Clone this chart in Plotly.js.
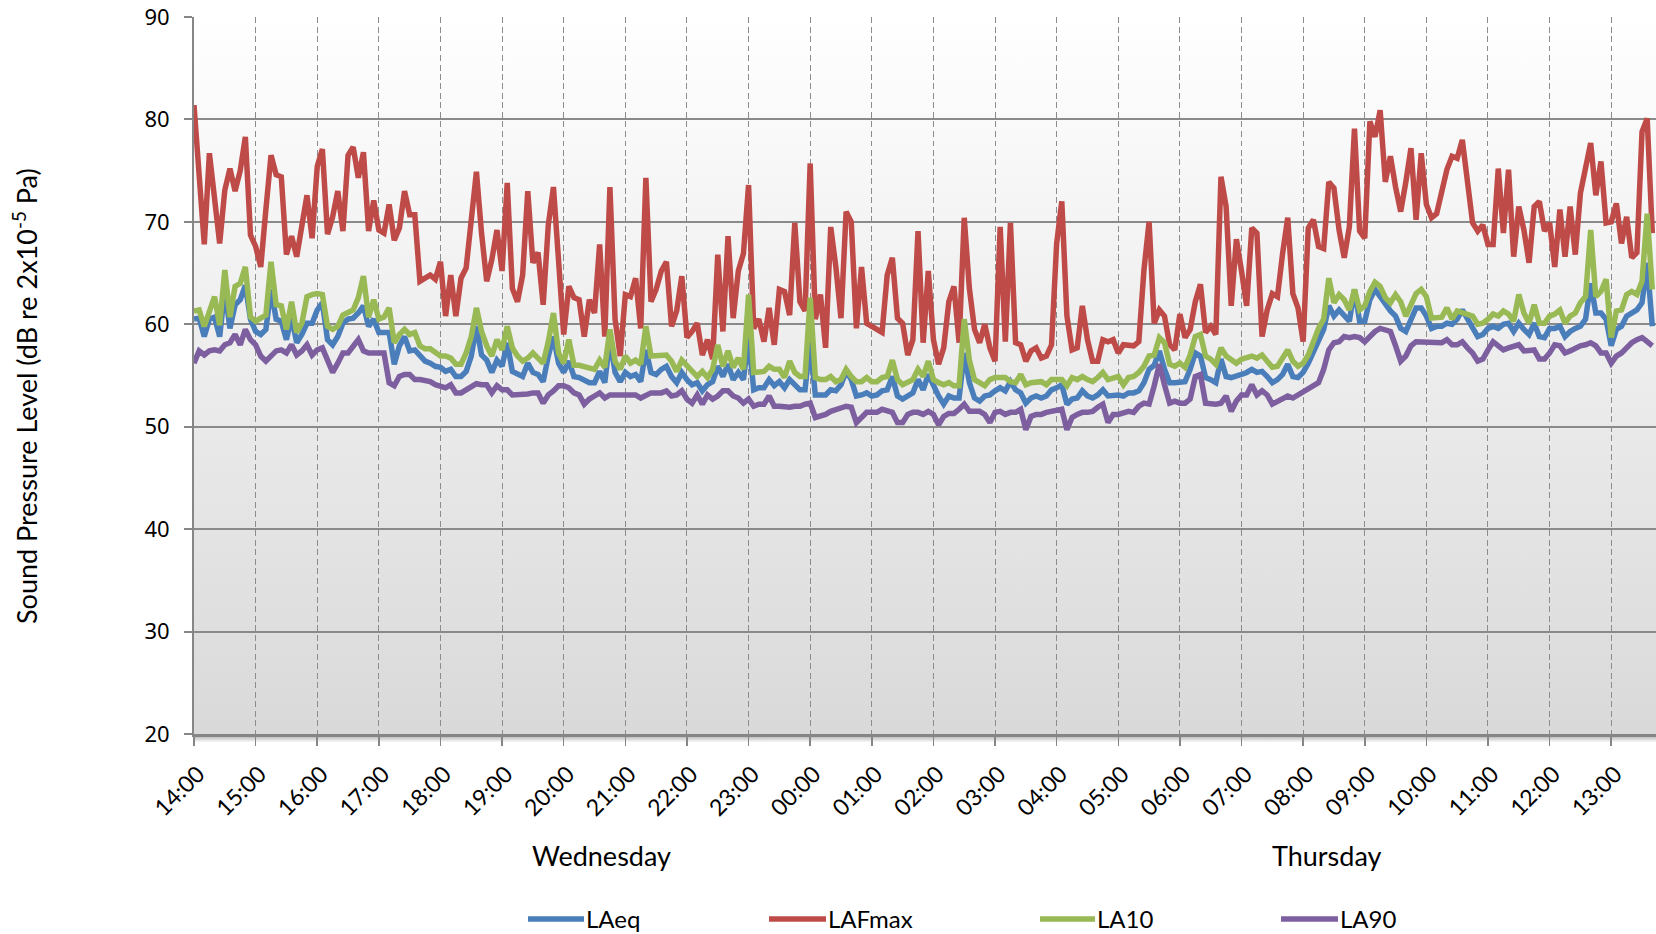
<!DOCTYPE html>
<html><head><meta charset="utf-8">
<script src="https://cdn.plot.ly/plotly-3.0.1.min.js"></script>
<style>html,body{margin:0;padding:0;background:#fff;overflow:hidden}#chart{width:1656px;height:934px}</style>
</head><body><div id="chart"></div>
<script>
// ---- data (5-minute samples, Wednesday 14:00 -> Thursday 13:40) ----
const startDate = '2015-01-07';   // a Wednesday
const startMinute = 14 * 60;      // 14:00
const stepMinutes = 5;
const rangeEnd = '2015-01-08 13:43:36';
const dayLabels = ['Wednesday', 'Thursday'];
const seriesNames = ['LAeq', 'LAFmax', 'LA10', 'LA90'];
const yTicks = [20, 30, 40, 50, 60, 70, 80, 90];

const LAFmax = [81.4,74.5,67.8,76.7,72.3,67.9,73.1,75.2,73.0,75.0,78.3,68.7,67.6,65.6,71.2,76.5,74.6,74.4,66.8,68.6,66.6,70.0,72.6,68.4,75.4,77.1,68.8,70.5,73.0,69.1,76.5,77.3,74.3,76.8,69.1,72.1,69.2,68.9,71.7,68.2,69.4,73.0,70.7,70.7,64.2,64.5,64.8,64.4,
66.1,60.8,64.8,60.8,64.5,65.5,69.9,74.9,68.9,64.2,66.3,69.2,65.2,73.8,63.5,62.2,64.8,73.0,66.0,67.0,61.9,69.7,73.4,67.0,59.0,63.7,62.6,62.4,58.8,62.4,61.1,67.8,58.8,73.4,60.5,56.9,62.9,62.7,64.5,59.6,74.3,62.2,63.4,65.2,66.1,59.8,61.3,64.7,
58.7,59.3,60.1,57.0,58.5,56.6,66.8,59.3,68.6,60.6,65.2,66.9,73.6,59.6,60.5,58.3,61.6,58.0,63.4,63.2,60.9,69.9,62.2,61.3,75.7,60.5,62.9,57.7,69.5,65.6,60.6,71.0,70.0,59.6,65.6,60.1,59.8,59.5,59.2,64.8,66.5,60.6,60.1,57.0,58.5,69.1,58.2,65.2,
58.5,56.1,57.7,62.2,63.7,58.2,70.4,63.5,59.5,58.2,60.0,57.7,56.4,69.5,58.3,69.9,58.2,58.0,56.4,57.4,57.7,56.7,56.9,58.0,67.9,72.0,60.8,57.5,57.7,61.8,58.5,56.4,56.4,58.5,58.3,58.5,57.2,58.0,57.9,57.9,58.3,65.3,70.0,60.1,61.4,60.8,58.0,
57.5,61.0,58.7,59.5,62.2,63.9,59.2,59.8,59.0,74.4,71.5,61.8,68.3,65.2,61.8,69.4,68.9,58.8,61.4,63.0,62.7,66.9,70.4,63.0,61.6,58.3,69.4,70.2,67.6,67.4,73.9,73.3,69.2,66.5,69.5,79.1,69.1,68.4,79.8,78.3,80.9,73.9,76.4,73.4,71.0,73.9,77.2,70.2,
76.7,71.7,70.4,70.8,73.1,75.1,76.4,76.2,78.0,73.8,69.9,69.1,69.7,67.8,67.8,75.2,68.9,75.1,66.6,71.5,69.2,66.0,71.5,72.0,69.1,69.9,65.6,71.2,66.6,71.5,66.8,72.8,75.6,77.7,72.6,75.9,69.9,70.0,71.8,67.9,70.5,66.5,67.0,78.8,80.1,68.9];

const LA10 = [61.3,61.4,59.8,61.1,62.7,59.9,65.3,60.7,63.7,64.0,65.6,60.7,60.3,60.6,60.9,66.1,61.9,61.8,59.5,62.2,59.2,60.1,62.7,62.9,63.0,62.9,59.8,59.5,59.8,60.9,61.2,61.4,62.6,64.7,60.7,62.4,60.5,60.7,61.6,58.2,59.0,59.5,59.0,59.2,57.9,57.6,57.6,57.2,
56.9,56.9,56.7,56.1,56.1,57.2,58.8,61.6,59.3,57.9,56.9,58.5,57.5,59.8,57.7,56.9,56.4,56.7,57.2,56.7,56.2,58.3,61.1,57.2,56.2,58.5,56.0,56.0,55.9,55.8,55.6,56.5,55.8,59.5,56.4,55.6,56.9,56.2,56.5,56.1,59.8,56.9,56.9,56.9,57.0,56.4,55.4,56.5,
55.9,55.4,54.9,55.4,54.8,55.6,58.0,55.9,57.4,55.8,56.7,55.6,62.9,55.3,55.4,55.4,55.9,55.6,55.6,54.8,56.4,55.3,54.9,54.9,62.6,54.8,54.6,54.6,54.9,54.4,54.6,55.6,54.9,54.4,54.4,54.8,54.4,54.4,54.8,54.9,56.5,54.6,54.1,54.3,54.6,55.6,54.9,56.4,
54.6,54.3,54.1,54.3,54.0,54.0,60.5,56.5,54.6,54.3,54.0,54.6,54.8,54.8,54.8,54.4,54.3,55.1,54.1,54.3,54.4,54.4,54.1,54.6,54.6,54.6,54.0,54.8,54.6,54.9,54.6,54.4,54.8,55.3,54.6,54.8,54.9,54.1,54.8,54.9,55.3,55.9,56.9,57.0,58.7,58.2,56.1,
55.9,56.2,55.8,57.0,58.8,59.0,56.9,56.6,56.1,57.7,56.9,56.6,56.2,56.6,56.7,56.9,56.7,57.0,56.4,55.8,55.9,56.7,57.5,56.4,55.9,56.2,57.0,58.3,59.6,60.5,64.5,62.1,62.9,62.4,61.4,63.4,61.4,61.8,63.2,64.1,63.7,62.6,62.1,62.9,62.2,60.8,61.9,63.0,
63.4,62.7,60.6,60.7,60.7,61.6,60.5,61.3,61.1,61.0,60.8,60.0,60.1,60.5,61.0,60.8,61.3,61.0,60.3,62.9,61.1,60.1,61.9,60.1,60.1,60.8,61.0,61.4,60.1,60.8,61.1,62.1,62.7,69.2,62.7,63.2,64.4,58.7,61.3,61.4,62.9,63.2,62.9,64.2,70.8,63.4];

const LAeq = [60.5,60.6,58.8,60.5,60.7,58.8,63.4,59.6,61.9,62.4,63.8,60.5,59.3,59.0,59.5,63.4,60.5,60.3,58.5,60.7,58.2,59.0,60.1,60.1,61.4,62.1,58.5,58.0,58.8,60.1,60.5,60.6,61.1,61.8,59.8,60.5,59.2,59.2,59.2,56.1,57.9,58.8,57.4,57.5,56.9,56.4,56.2,55.9,
55.8,55.4,55.6,54.9,54.9,55.4,56.9,59.8,57.0,56.5,55.3,56.5,55.9,58.2,55.4,55.1,54.9,56.2,55.3,55.1,54.4,56.9,58.8,56.2,55.3,56.4,54.9,54.8,54.6,54.3,54.3,55.4,54.3,58.5,55.3,54.4,55.3,54.9,55.1,54.4,57.5,55.3,55.1,55.6,55.9,54.9,54.3,55.3,
54.6,54.1,54.3,53.5,54.1,54.4,55.9,54.9,56.1,54.6,55.3,54.6,58.7,53.6,53.8,53.8,54.6,54.0,54.4,53.8,54.6,54.1,53.6,53.6,58.2,53.1,53.1,53.1,53.6,53.5,54.1,55.4,54.6,53.0,53.1,53.3,53.0,53.1,53.5,53.6,54.9,53.0,52.7,53.0,53.3,54.6,53.6,55.1,
54.0,53.0,52.2,53.0,52.8,52.8,57.2,54.3,52.8,52.5,53.0,53.1,53.5,53.8,53.5,54.4,53.6,53.3,52.3,52.8,53.0,52.8,53.0,53.6,53.8,54.1,52.2,52.7,52.8,53.5,53.0,52.8,53.1,53.6,53.0,53.1,53.1,53.0,53.3,53.3,53.5,54.3,55.6,56.0,57.4,55.6,54.3,
54.3,54.3,54.4,55.6,57.2,56.9,54.8,54.6,54.3,56.6,54.9,54.8,54.9,55.1,55.3,55.6,55.3,55.4,54.9,54.3,54.6,55.1,56.1,54.9,54.8,55.3,56.2,57.2,58.5,59.5,61.8,60.8,61.4,60.8,60.3,63.4,60.3,60.3,62.4,63.4,62.7,61.8,61.3,60.8,59.6,59.3,60.5,61.6,
61.6,60.8,59.6,59.8,59.8,60.1,60.0,60.5,61.4,60.5,59.6,58.8,59.0,59.6,59.8,59.6,60.0,60.1,59.3,60.1,59.5,59.0,60.1,58.8,58.7,59.6,59.6,59.8,58.8,59.3,59.6,59.8,60.5,64.0,61.1,61.1,60.5,57.9,59.5,59.8,60.8,61.1,61.4,62.1,66.0,59.8];

const LA90 = [56.2,57.4,57.0,57.4,57.5,57.4,58.0,58.2,59.0,58.0,59.5,58.5,58.0,56.9,56.4,56.9,57.4,57.5,57.2,58.0,57.0,57.4,58.0,57.0,57.5,57.7,56.6,55.3,56.2,57.2,57.2,57.9,58.5,57.4,57.2,57.2,57.2,57.2,54.3,54.0,54.9,55.1,55.1,54.6,54.6,54.5,54.4,54.1,
54.0,53.8,54.1,53.3,53.3,53.6,54.0,54.2,54.1,54.1,53.3,54.0,53.6,53.6,53.1,53.1,53.2,53.2,53.3,53.3,52.3,53.1,53.5,54.0,54.0,53.8,53.3,53.1,52.2,52.7,53.0,53.3,52.8,53.1,53.1,53.1,53.2,53.2,53.1,52.8,53.1,53.3,53.3,53.3,53.5,53.0,53.1,53.5,
52.7,52.3,53.1,52.2,53.1,52.7,53.0,53.5,53.5,53.0,52.8,52.3,52.7,52.0,52.2,52.2,53.0,52.0,52.0,51.9,51.9,52.0,52.0,52.2,52.3,50.9,51.0,51.2,51.5,51.7,51.9,52.0,51.9,50.4,50.9,51.4,51.4,51.4,51.7,51.5,51.4,50.4,50.4,51.2,51.4,51.4,51.2,51.5,
51.2,50.2,51.0,51.3,51.3,51.7,52.2,51.5,51.5,51.5,51.2,50.4,51.4,51.5,51.2,51.4,51.4,51.7,49.7,51.0,51.2,51.2,51.4,51.5,51.6,51.7,49.7,50.9,51.2,51.4,51.4,51.5,51.9,52.2,50.4,51.2,51.2,51.4,51.5,51.4,52.0,52.3,52.2,54.0,56.1,54.1,52.3,
52.5,52.3,52.3,52.7,54.9,55.1,52.3,52.2,52.2,52.3,53.0,51.5,52.5,53.1,53.1,54.1,53.1,53.5,53.1,52.2,52.5,52.8,53.0,52.8,53.1,53.5,53.8,54.1,54.3,55.6,57.5,58.2,58.3,58.8,58.7,58.8,58.7,58.3,58.8,59.3,59.6,59.5,59.3,57.9,56.4,56.9,57.9,58.3,
58.3,58.2,58.2,58.2,58.2,58.5,58.0,58.0,58.3,57.7,57.2,56.4,56.6,57.5,58.3,57.9,57.5,57.7,57.9,58.0,57.4,57.5,57.5,56.6,56.6,57.2,58.0,57.9,57.2,57.4,57.7,57.9,58.0,58.2,57.9,57.2,57.2,56.2,56.9,57.2,57.7,58.2,58.5,58.7,58.3,57.9];

const seriesColors = ['#4A7EBB', '#BE4B48', '#98B954', '#7D5FA0'];

// ---- time stamps ----
function pad(n) { return (n < 10 ? '0' : '') + n; }
function stamp(i) {
  const t = startMinute + i * stepMinutes;
  const day = 7 + Math.floor(t / 1440);
  const m = t % 1440;
  return '2015-01-' + pad(day) + ' ' + pad(Math.floor(m / 60)) + ':' + pad(m % 60);
}
const times = LAeq.map((_, i) => stamp(i));

const lineWidth = 5.5;
const seriesData = [LAeq, LAFmax, LA10, LA90];
const traces = seriesData.map((ys, k) => ({
  type: 'scatter', mode: 'lines', name: seriesNames[k],
  x: times, y: ys,
  line: {color: seriesColors[k], width: lineWidth},
  showlegend: false, hoverinfo: 'skip'
}));

function svgUri(svg) { return 'data:image/svg+xml;charset=utf-8,' + encodeURIComponent(svg); }
const gradSvg = '<svg xmlns="http://www.w3.org/2000/svg" width="10" height="100" preserveAspectRatio="none">' +
  '<defs><linearGradient id="g" x1="0" y1="0" x2="0" y2="1">' +
  '<stop offset="0" stop-color="#ffffff"/><stop offset="1" stop-color="#d9d9d9"/></linearGradient></defs>' +
  '<rect width="10" height="100" fill="url(#g)"/></svg>';
const shadowSvg = '<svg xmlns="http://www.w3.org/2000/svg" width="10" height="10" preserveAspectRatio="none">' +
  '<defs><linearGradient id="s" x1="0" y1="0" x2="0" y2="1">' +
  '<stop offset="0" stop-color="#6e6e6e" stop-opacity="0.55"/><stop offset="1" stop-color="#6e6e6e" stop-opacity="0"/></linearGradient></defs>' +
  '<rect width="10" height="10" fill="url(#s)"/></svg>';

// plot geometry in px (for paper-coordinate decorations)
const M = {l: 194, r: 0, t: 17, b: 200};
const PW = 1656 - M.l - M.r, PH = 934 - M.t - M.b;
const px2x = (px) => (px - M.l) / PW;
const py2y = (py) => (934 - M.b - py) / PH;

// ---- legend (key lines + labels), laid out like the original's bottom legend ----
const legendTextStart = [587, 829, 1098, 1341];
const legendLineStart = [528, 769, 1040, 1281];
const legendY = 918;
const legendShapes = seriesColors.map((c, k) => ({
  type: 'line', xref: 'paper', yref: 'paper',
  x0: px2x(legendLineStart[k]), x1: px2x(legendTextStart[k] - 3),
  y0: py2y(legendY + 1), y1: py2y(legendY + 1),
  line: {color: c, width: lineWidth}
}));
const legendLabels = seriesNames.map((n, k) => ({
  text: n, xref: 'paper', yref: 'paper', x: px2x(legendTextStart[k] - 3), y: py2y(legendY),
  xanchor: 'left', yanchor: 'middle', showarrow: false,
  font: {family: 'Lato', size: 24, color: '#000'}
}));

const layout = {
  width: 1656, height: 934,
  margin: {l: M.l, r: M.r, t: M.t, b: M.b, pad: 0, autoexpand: false},
  paper_bgcolor: '#ffffff', plot_bgcolor: 'rgba(0,0,0,0)',
  font: {family: 'Lato', color: '#000'},
  showlegend: false,
  xaxis: {
    type: 'date', range: [stamp(0), rangeEnd], automargin: false,
    tick0: stamp(0), dtick: 3600000, tickformat: '%H:%M', tickangle: -45,
    ticks: 'outside', ticklen: 9, tickwidth: 1.5, tickcolor: '#868686',
    ticklabelstandoff: 6, ticklabelshift: 4,
    tickfont: {family: 'Lato', size: 23, color: '#000'},
    showgrid: true, gridcolor: '#8c8c8c', gridwidth: 1, griddash: '6px,3.5px',
    showline: true, linecolor: '#868686', linewidth: 2.5, zeroline: false
  },
  yaxis: {
    range: [20, 90], tickvals: yTicks, ticktext: yTicks.map(String), automargin: false,
    ticks: 'outside', ticklen: 8, tickwidth: 2, tickcolor: '#868686',
    ticklabelstandoff: 10,
    tickfont: {family: 'Noto Sans', size: 22, color: '#000'},
    showgrid: true, gridcolor: '#8a8a8a', gridwidth: 2,
    showline: true, linecolor: '#868686', linewidth: 2, zeroline: false
  },
  images: [{
    source: svgUri(gradSvg),
    xref: 'paper', yref: 'paper', x: 0, y: 1, sizex: 1, sizey: 1,
    sizing: 'stretch', layer: 'below', xanchor: 'left', yanchor: 'top'
  }, {
    source: svgUri(shadowSvg),
    xref: 'paper', yref: 'paper', x: 0, y: py2y(735.5), sizex: 1, sizey: 7 / PH,
    sizing: 'stretch', layer: 'below', xanchor: 'left', yanchor: 'top'
  }],
  shapes: legendShapes,
  annotations: [
    {text: 'Sound Pressure Level (dB re 2x10<sup>-5</sup> Pa)', xref: 'paper', yref: 'paper',
     x: px2x(25), y: py2y(396), xanchor: 'center', yanchor: 'middle', textangle: -90, showarrow: false,
     font: {family: 'Lato', size: 27, color: '#000'}},
    {text: dayLabels[0], xref: 'paper', yref: 'paper', x: px2x(601), y: py2y(855),
     xanchor: 'center', yanchor: 'middle', showarrow: false, font: {family: 'Lato', size: 27, color: '#000'}},
    {text: dayLabels[1], xref: 'paper', yref: 'paper', x: px2x(1326), y: py2y(855),
     xanchor: 'center', yanchor: 'middle', showarrow: false, font: {family: 'Lato', size: 27, color: '#000'}}
  ].concat(legendLabels)
};

Plotly.newPlot('chart', traces, layout, {displayModeBar: false, staticPlot: true});
</script>
</body></html>
